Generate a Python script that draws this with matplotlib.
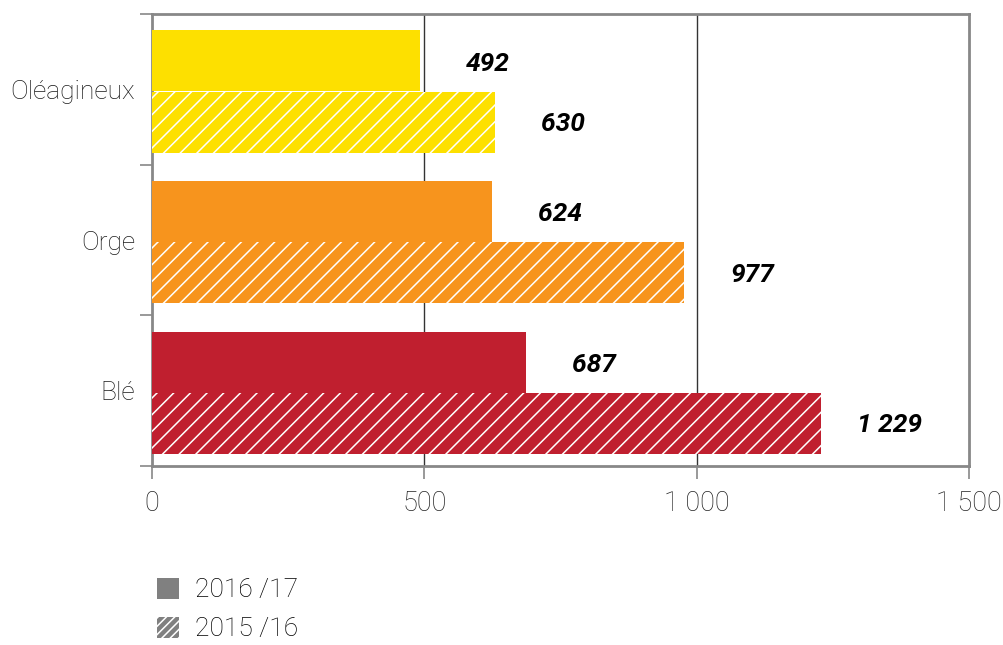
import numpy as np
import matplotlib
matplotlib.use("Agg")
import matplotlib.pyplot as plt
from matplotlib.patches import Patch

# data, bottom to top
categories = ["Blé", "Orge", "Oléagineux"]
v2016 = [687, 624, 492]
v2015 = [1229, 977, 630]
colors = ["#C01F2F", "#F7941D", "#FDE000"]
legend_labels = ["2016 /17", "2015 /16"]
xticks = [0, 500, 1000, 1500]

def fmt(v):
    return "{:,}".format(v).replace(",", " ")

plt.rcParams["font.family"] = ["Roboto", "DejaVu Sans"]
plt.rcParams["hatch.color"] = "white"
plt.rcParams["hatch.linewidth"] = 1.1

fig = plt.figure(figsize=(10.04, 6.45), dpi=100)
ax = fig.add_axes([0.1514, 0.2775, 0.8137, 0.7008])

pos = np.arange(len(categories))
h = 0.405
ax.barh(pos + 0.69, v2016, height=h, color=colors, linewidth=0, zorder=3)
ax.barh(pos + 0.282, v2015, height=h, color=colors, edgecolor="white",
        linewidth=0, hatch="//", zorder=3)

for i in pos:
    ax.text(v2016[i] + 125, i + 0.67, fmt(v2016[i]), ha="center", va="center",
            fontsize=19, fontweight="bold", fontstyle="italic", zorder=4)
    ax.text(v2015[i] + 125, i + 0.27, fmt(v2015[i]), ha="center", va="center",
            fontsize=19, fontweight="bold", fontstyle="italic", zorder=4)

ax.set_xlim(0, 1500)
ax.set_ylim(0, 3)
ax.set_xticks(xticks)
ax.set_xticklabels([fmt(t) for t in xticks], fontsize=19.5, fontweight="light",
                   color="#222222")
ax.set_yticks([0, 1, 2, 3])
ax.set_yticklabels([])
ax.set_yticks(pos + 0.5, minor=True)
ax.set_yticklabels(categories, minor=True, fontsize=19, fontweight="light",
                   color="#1a1a1a")
ax.tick_params(axis="y", which="minor", length=0, pad=12)
ax.tick_params(axis="both", which="major", length=9, width=1.2, color="#888888")
ax.tick_params(axis="x", pad=8)

for x in [500, 1000]:
    ax.axvline(x, color="#333333", linewidth=1, zorder=2)
for s in ax.spines.values():
    s.set_color("#888888")
    s.set_linewidth(2)

handles = [Patch(facecolor="#808080", linewidth=0),
           Patch(facecolor="#808080", edgecolor="white", linewidth=0, hatch="////")]
fig.legend(handles, legend_labels, loc="upper left", bbox_to_anchor=(0.143, 0.125),
           frameon=False, handlelength=0.85, handleheight=0.85,
           labelspacing=0.55, handletextpad=0.6, borderpad=0,
           prop={"size": 19, "weight": "light"})

fig.savefig("out.png", dpi=100)
